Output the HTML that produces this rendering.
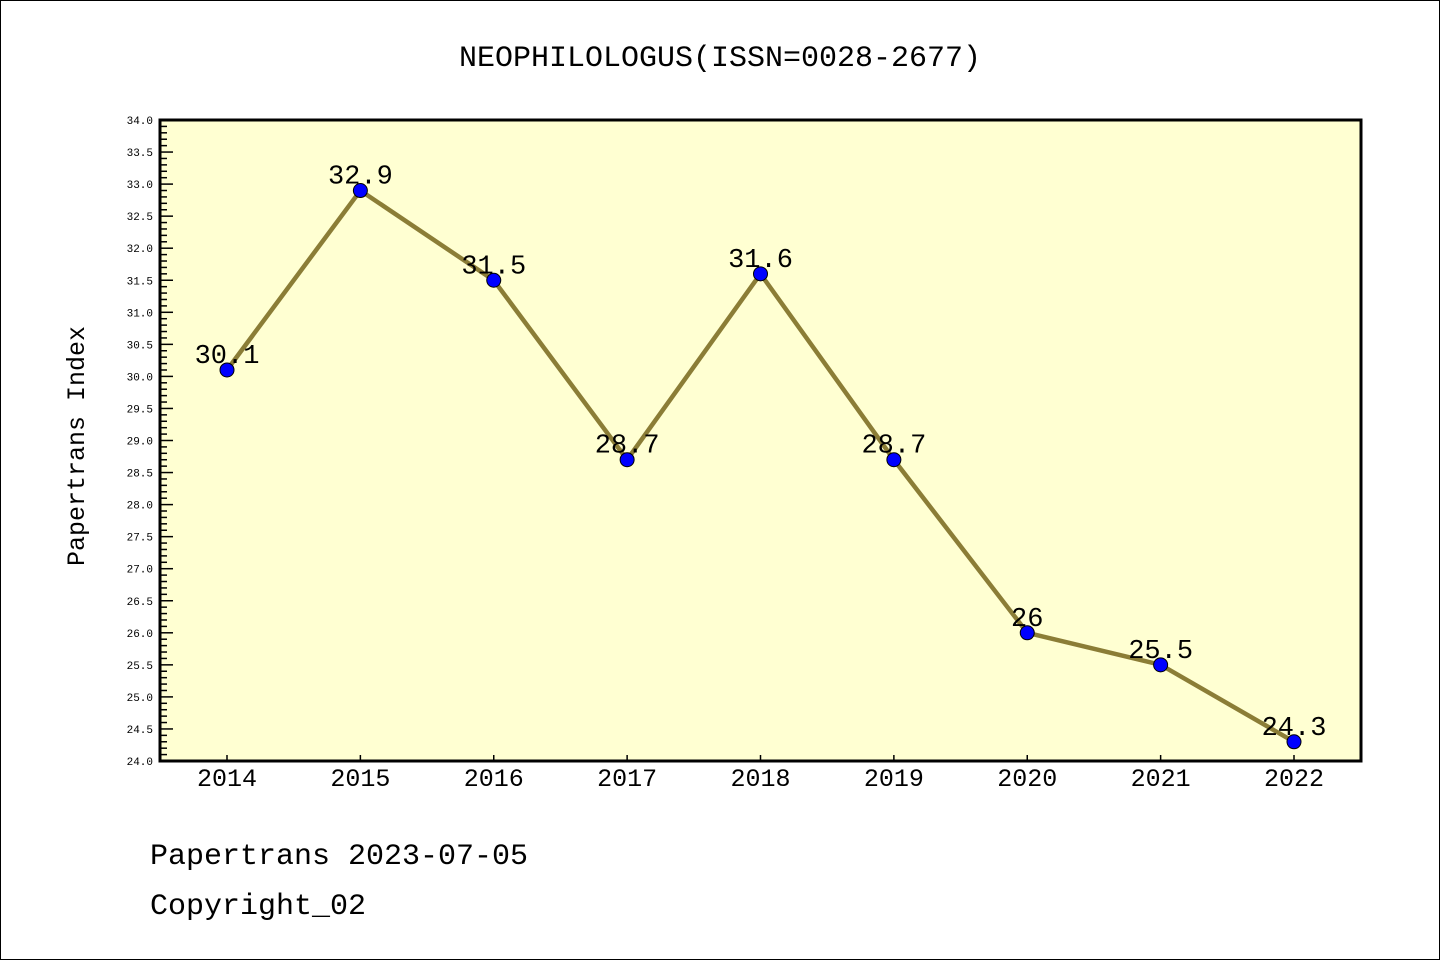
<!DOCTYPE html>
<html><head><meta charset="utf-8"><style>
body{margin:0;background:#fff}
svg{display:block}
text{font-family:"Liberation Mono","DejaVu Sans Mono",monospace}
</style></head><body>
<svg id="c" width="1440" height="960">
<rect x="0.5" y="0.5" width="1439" height="959" fill="#fff" stroke="#000"/>
<text x="720" y="66" text-anchor="middle" font-size="30">NEOPHILOLOGUS(ISSN=0028-2677)</text>
<rect x="160" y="120" width="1201" height="641" fill="#ffffd2"/>
<g id="ticks"></g>
<g id="marks"></g>
<rect x="160" y="120" width="1201" height="641" fill="none" stroke="#000" stroke-width="3"/>
<text transform="translate(84,446) rotate(-90)" text-anchor="middle" font-size="25">Papertrans Index</text>
<text x="150" y="864" font-size="30">Papertrans 2023-07-05</text>
<text x="150" y="914" font-size="30">Copyright_02</text>
</svg>
<script>
const years=["2014","2015","2016","2017","2018","2019","2020","2021","2022"];
const values=[30.1,32.9,31.5,28.7,31.6,28.7,26,25.5,24.3];
const labels=["30.1","32.9","31.5","28.7","31.6","28.7","26","25.5","24.3"];
const yMin=24,yMax=34;
const NS="http://www.w3.org/2000/svg";
const X=i=>227+i*(1294-227)/(years.length-1);
const Y=v=>761-(v-yMin)*(641/(yMax-yMin));
function mk(t,a,p){const e=document.createElementNS(NS,t);for(const k in a)e.setAttribute(k,a[k]);p.appendChild(e);return e;}
const tk=document.getElementById('ticks');
for(let k=0;k<=100;k++){const v=yMin+k*0.1,y=Y(v),maj=k%5===0;
 const l=mk('line',{x1:160,x2:160+(maj?13:7),y1:y,y2:y,stroke:'#000','stroke-width':1.5},tk);
 
 if(maj){const t=mk('text',{x:153,y:y+4,'text-anchor':'end','font-size':11,'font-family':'DejaVu Sans, sans-serif'},tk);t.textContent=v.toFixed(1);
 }}
years.forEach((yr,i)=>{const x=X(i);
 const l=mk('line',{x1:x,x2:x,y1:761,y2:755,stroke:'#000','stroke-width':1.5},tk);
 
 const t=mk('text',{x:x,y:786,'text-anchor':'middle','font-size':25},tk);t.textContent=yr;
 });
const m=document.getElementById('marks');
const pl=mk('polyline',{points:values.map((v,i)=>X(i)+','+Y(v)).join(' '),fill:'none',stroke:'#8b7d36','stroke-width':4.5},m);

values.forEach((v,i)=>{const c=mk('circle',{cx:X(i),cy:Y(v),r:7,fill:'#0000ff',stroke:'#000','stroke-width':1},m);
 
 const t=mk('text',{x:X(i),y:Y(v)-7,'text-anchor':'middle','font-size':27},m);t.textContent=labels[i];
 });
</script>
</body></html>
